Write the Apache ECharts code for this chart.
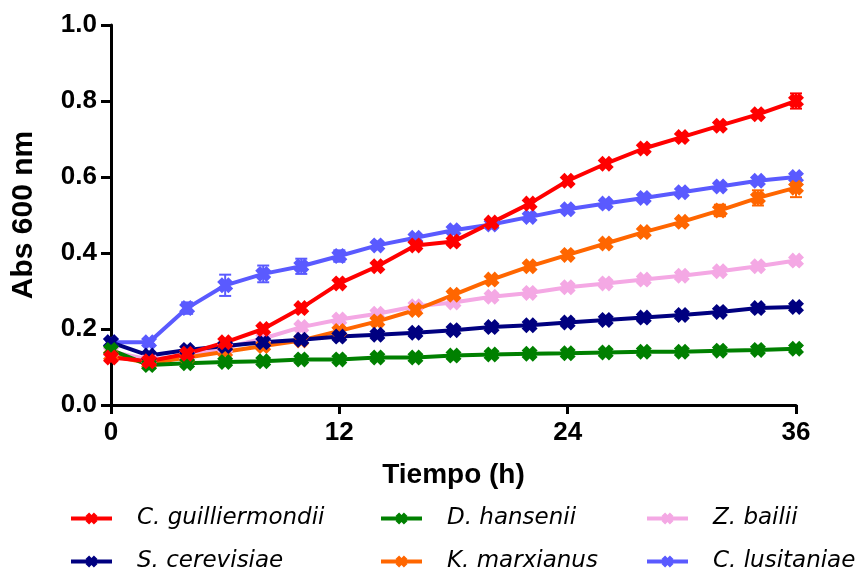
<!DOCTYPE html>
<html><head><meta charset="utf-8">
<script src="https://cdn.jsdelivr.net/npm/echarts@6/dist/echarts.min.js"></script>
<style>html,body{margin:0;padding:0;background:#fff}#c{width:859px;height:575px}</style>
</head><body><div id="c"></div>
<script>
var time = [0,2,4,6,8,10,12,14,16,18,20,22,24,26,28,30,32,34,36];
var yTicks = [0,0.2,0.4,0.6,0.8,1.0];
var xTicks = [0,12,24,36];
var guilliermondii = [0.125,0.115,0.135,0.165,0.20,0.255,0.32,0.365,0.42,0.43,0.48,0.53,0.59,0.635,0.675,0.705,0.735,0.765,0.80];
var guilliermondiiErr = [0.005,0.005,0.005,0.005,0.005,0.005,0.008,0.008,0.008,0.008,0.008,0.008,0.008,0.008,0.01,0.01,0.008,0.01,0.02];
var hansenii = [0.145,0.105,0.11,0.113,0.115,0.12,0.12,0.125,0.125,0.13,0.133,0.135,0.136,0.138,0.14,0.14,0.143,0.145,0.148];
var hanseniiErr = [0.005,0.005,0.005,0.005,0.005,0.005,0.005,0.005,0.005,0.005,0.005,0.005,0.005,0.005,0.005,0.005,0.005,0.005,0.005];
var bailii = [0.14,0.12,0.13,0.15,0.175,0.205,0.225,0.24,0.26,0.27,0.285,0.295,0.31,0.32,0.33,0.34,0.352,0.365,0.38];
var bailiiErr = [0.005,0.005,0.005,0.005,0.005,0.005,0.005,0.005,0.005,0.005,0.005,0.005,0.005,0.005,0.005,0.005,0.005,0.005,0.008];
var cerevisiae = [0.165,0.13,0.145,0.155,0.165,0.172,0.18,0.185,0.19,0.197,0.205,0.21,0.217,0.224,0.23,0.237,0.245,0.255,0.258];
var cerevisiaeErr = [0.005,0.005,0.005,0.005,0.005,0.005,0.005,0.005,0.005,0.005,0.005,0.005,0.005,0.005,0.005,0.005,0.005,0.005,0.005];
var marxianus = [0.13,0.11,0.125,0.14,0.155,0.17,0.195,0.22,0.25,0.29,0.33,0.365,0.395,0.425,0.455,0.482,0.512,0.545,0.572];
var marxianusErr = [0.005,0.005,0.005,0.005,0.005,0.005,0.005,0.005,0.005,0.005,0.008,0.008,0.008,0.008,0.01,0.01,0.015,0.02,0.025];
var lusitaniae = [0.165,0.165,0.255,0.315,0.345,0.365,0.392,0.42,0.44,0.46,0.475,0.495,0.515,0.53,0.545,0.56,0.575,0.59,0.60];
var lusitaniaeErr = [0.005,0.005,0.015,0.028,0.022,0.02,0.015,0.01,0.01,0.01,0.01,0.01,0.01,0.01,0.01,0.01,0.008,0.008,0.008];

var names = ['C. guilliermondii','D. hansenii','Z. bailii','S. cerevisiae','K. marxianus','C. lusitaniae'];
var colors = ['#FF0000','#008000','#F4A8E4','#000080','#FF6600','#5A5AFF'];
var vals = [guilliermondii,hansenii,bailii,cerevisiae,marxianus,lusitaniae];
var errs = [guilliermondiiErr,hanseniiErr,bailiiErr,cerevisiaeErr,marxianusErr,lusitaniaeErr];
var drawOrder = [5,2,4,3,1,0];

var xPath = 'path://M3,0 L5,2 L7,0 L10,3 L8,5 L10,7 L7,10 L5,8 L3,10 L0,7 L2,5 L0,3 Z';
var FONT = '"Liberation Sans", Arial, sans-serif';

var series = [];
drawOrder.forEach(function(i){
  series.push({
    type:'custom', name:'err'+i, silent:true,
    itemStyle:{color:colors[i]},
    data: time.map(function(t,k){return [t, vals[i][k], errs[i][k]];}),
    renderItem: function(params, api){
      var x = api.value(0), y = api.value(1), e = api.value(2);
      var top = api.coord([x, y+e]), bot = api.coord([x, y-e]);
      var c = colors[i];
      return {type:'group', children:[
        {type:'line', shape:{x1:top[0],y1:top[1],x2:bot[0],y2:bot[1]}, style:{stroke:c,lineWidth:2}},
        {type:'line', shape:{x1:top[0]-6,y1:top[1],x2:top[0]+6,y2:top[1]}, style:{stroke:c,lineWidth:2}},
        {type:'line', shape:{x1:bot[0]-6,y1:bot[1],x2:bot[0]+6,y2:bot[1]}, style:{stroke:c,lineWidth:2}}
      ]};
    },
    z: 2
  });
  series.push({
    type:'line', name:names[i],
    data: time.map(function(t,k){return [t, vals[i][k]];}),
    symbol: xPath, symbolSize: 16, showSymbol:true,
    lineStyle:{color:colors[i], width:4},
    itemStyle:{color:colors[i]},
    z: 3
  });
});

var legendLeft = [69, 379, 645, 69, 379, 645];
var legendTop = [507, 507, 507, 550, 550, 550];
var legendOrder = [0,1,2,3,4,5];
var legends = legendOrder.map(function(i, k){
  return {
    orient:'horizontal', left:legendLeft[k], top:legendTop[k], padding:0,
    itemWidth:41, itemHeight:15,
    data: [names[i]],
    lineStyle:{width:4},
    textStyle:{fontFamily:'"DejaVu Sans", sans-serif', fontSize:23, fontStyle:'italic', color:'#000', padding:[0,0,0,20]},
    selectedMode:false
  };
});

var chart = echarts.init(document.getElementById('c'), null, {renderer:'canvas'});
chart.setOption({
  animation:false,
  backgroundColor:'#fff',
  color: colors,
  grid:{left:111, right:63, top:25, bottom:170, containLabel:false},
  xAxis:{
    type:'value', min:0, max:36, interval:12,
    name:'Tiempo (h)', nameLocation:'middle', nameGap:56,
    nameTextStyle:{fontFamily:FONT, fontSize:28, fontWeight:'bold', color:'#000'},
    axisLine:{show:true, onZero:false, lineStyle:{color:'#000', width:3}},
    axisTick:{show:true, length:9, lineStyle:{color:'#000', width:3}},
    axisLabel:{fontFamily:FONT, fontSize:26, fontWeight:'bold', color:'#000', margin:15,
      formatter:function(v){return xTicks.indexOf(v)>=0 ? String(v) : '';}},
    splitLine:{show:false}
  },
  yAxis:{
    type:'value', min:0, max:1, interval:0.2,
    name:'Abs 600 nm', nameLocation:'middle', nameGap:72, nameRotate:90,
    nameTextStyle:{fontFamily:FONT, fontSize:30, fontWeight:'bold', color:'#000'},
    axisLine:{show:true, lineStyle:{color:'#000', width:3}},
    axisTick:{show:true, length:10, lineStyle:{color:'#000', width:3}},
    axisLabel:{fontFamily:FONT, fontSize:26, fontWeight:'bold', color:'#000', margin:14,
      formatter:function(v){return v.toFixed(1);}},
    splitLine:{show:false}
  },
  legend: legends,
  series: series
});
</script></body></html>
